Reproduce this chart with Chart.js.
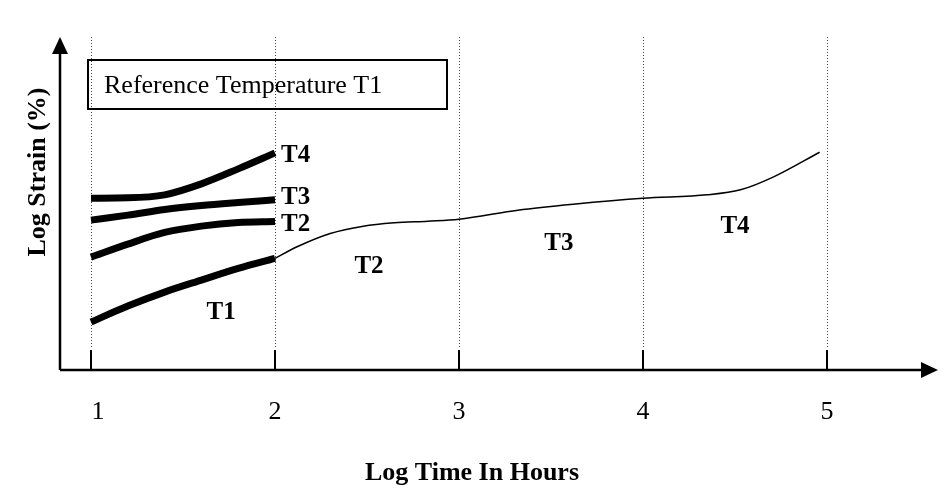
<!DOCTYPE html>
<html lang="en">
<head>
    <meta charset="UTF-8">
    <script src="https://cdn.jsdelivr.net/npm/chart.js@4/dist/chart.umd.min.js"></script>
    <title>Log Strain vs Log Time</title>
    <style>
        body { margin: 0; background: #fff; }
        canvas { display: block; }
    </style>
</head>
<body>
    <canvas id="myChart" width="949" height="504"></canvas>
    <script>
        // log time for the short-term curves (one decade each)
        const logTime = [1, 1.2, 1.4, 1.6, 1.8, 2];
        const strainT1 = [1.44, 1.92, 2.34, 2.70, 3.05, 3.35];
        const strainT2 = [3.39, 3.78, 4.13, 4.32, 4.43, 4.46];
        const strainT3 = [4.50, 4.65, 4.82, 4.94, 5.03, 5.11];
        const strainT4 = [5.16, 5.17, 5.26, 5.59, 6.04, 6.52];

        // shifted master curve at reference temperature T1
        const masterTime = [2, 2.12, 2.3, 2.48, 2.65, 2.83, 3, 3.32, 3.62, 4, 4.35, 4.53, 4.71, 4.96];
        const masterStrain = [3.35, 3.70, 4.10, 4.32, 4.42, 4.47, 4.53, 4.80, 4.98, 5.16, 5.26, 5.41, 5.80, 6.54];

        const tickValues = [1, 2, 3, 4, 5];
        const curveNames = ['T1', 'T2', 'T3', 'T4'];

        const serif = '"Liberation Serif", "Times New Roman", serif';

        function toPoints(xs, ys) {
            return xs.map((x, i) => ({ x: x, y: ys[i] }));
        }

        const shortCurves = [strainT1, strainT2, strainT3, strainT4].map((s, i) => ({
            label: curveNames[i],
            data: toPoints(logTime, s),
            borderColor: '#000',
            borderWidth: 7,
            pointRadius: 0,
            cubicInterpolationMode: 'monotone'
        }));

        const masterCurve = {
            label: 'Master',
            data: toPoints(masterTime, masterStrain),
            borderColor: '#000',
            borderWidth: 1.5,
            pointRadius: 0,
            cubicInterpolationMode: 'monotone'
        };

        // axes, arrows, grid and text drawn from the chart scales
        const decorations = {
            id: 'decorations',
            beforeDatasetsDraw(chart) {
                const ctx = chart.ctx;
                const xs = chart.scales.x;
                const area = chart.chartArea;
                ctx.save();
                // dotted verticals
                ctx.strokeStyle = '#444';
                ctx.lineWidth = 1;
                ctx.setLineDash([1, 2]);
                tickValues.forEach(v => {
                    const px = Math.round(xs.getPixelForValue(v)) + 0.5;
                    ctx.beginPath();
                    ctx.moveTo(px, area.top);
                    ctx.lineTo(px, area.bottom - 22);
                    ctx.stroke();
                });
                ctx.restore();
            },
            afterDraw(chart) {
                const ctx = chart.ctx;
                const xs = chart.scales.x;
                const ys = chart.scales.y;
                const area = chart.chartArea;
                ctx.save();
                ctx.fillStyle = '#000';
                ctx.strokeStyle = '#000';

                // tick marks
                ctx.lineWidth = 2;
                tickValues.forEach(v => {
                    const px = Math.round(xs.getPixelForValue(v));
                    ctx.beginPath();
                    ctx.moveTo(px, area.bottom - 20);
                    ctx.lineTo(px, area.bottom);
                    ctx.stroke();
                });

                // axes with arrow heads
                ctx.lineWidth = 2.5;
                ctx.beginPath();
                ctx.moveTo(area.left, area.bottom);
                ctx.lineTo(area.right - 14, area.bottom);
                ctx.moveTo(area.left, area.bottom);
                ctx.lineTo(area.left, area.top + 14);
                ctx.stroke();
                ctx.beginPath();
                ctx.moveTo(area.right, area.bottom);
                ctx.lineTo(area.right - 17, area.bottom - 8);
                ctx.lineTo(area.right - 17, area.bottom + 8);
                ctx.closePath();
                ctx.fill();
                ctx.beginPath();
                ctx.moveTo(area.left, area.top);
                ctx.lineTo(area.left - 8, area.top + 17);
                ctx.lineTo(area.left + 8, area.top + 17);
                ctx.closePath();
                ctx.fill();

                // tick labels
                ctx.font = '26px ' + serif;
                ctx.textAlign = 'center';
                ctx.textBaseline = 'alphabetic';
                tickValues.forEach(v => {
                    ctx.fillText(String(v), xs.getPixelForValue(v) + (v === 1 ? 7 : 0), area.bottom + 49);
                });

                // axis titles
                ctx.font = 'bold 26px ' + serif;
                ctx.fillText('Log Time In Hours', 472, area.bottom + 110);
                ctx.save();
                ctx.translate(45, 172);
                ctx.rotate(-Math.PI / 2);
                ctx.fillText('Log Strain (%)', 0, 0);
                ctx.restore();

                // curve end labels
                ctx.font = 'bold 25px ' + serif;
                ctx.textAlign = 'left';
                const endX = xs.getPixelForValue(2) + 6;
                ctx.fillText('T4', endX, 162);
                ctx.fillText('T3', endX, 204);
                ctx.fillText('T2', endX, 231);

                // segment labels under the master curve
                ctx.textAlign = 'center';
                const segLabels = [[1.707, 1.77], [2.511, 3.15], [3.543, 3.84], [4.5, 4.35]];
                segLabels.forEach((p, i) => {
                    ctx.fillText(curveNames[i], xs.getPixelForValue(p[0]), ys.getPixelForValue(p[1]) + 8);
                });

                // reference box
                ctx.lineWidth = 2;
                ctx.strokeRect(88, 60, 359, 49);
                ctx.font = '26px ' + serif;
                ctx.textAlign = 'left';
                ctx.fillText('Reference Temperature T1', 104, 93);
                ctx.restore();
            }
        };

        const ctx = document.getElementById('myChart').getContext('2d');
        new Chart(ctx, {
            type: 'line',
            data: { datasets: shortCurves.concat([masterCurve]) },
            options: {
                responsive: false,
                animation: false,
                layout: { padding: { left: 60, right: 11, top: 37, bottom: 134 } },
                plugins: { legend: { display: false }, tooltip: { enabled: false } },
                scales: {
                    x: { type: 'linear', min: 0.8315, max: 5.6033, display: false },
                    y: { min: 0, max: 10, display: false }
                }
            },
            plugins: [decorations]
        });
    </script>
</body>
</html>
